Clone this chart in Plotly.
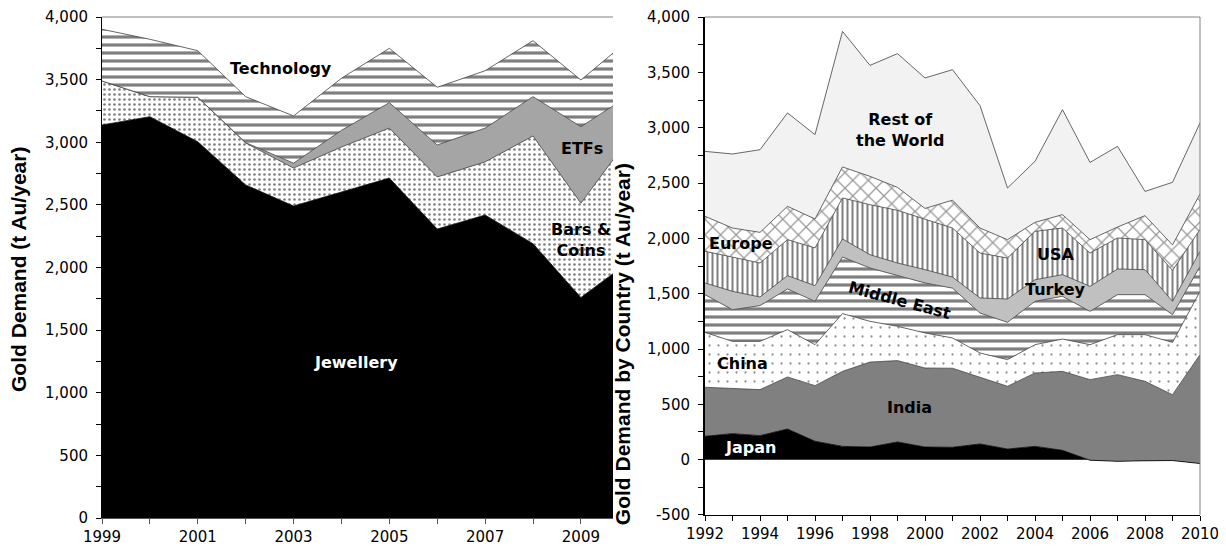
import plotly.graph_objects as go
from plotly.subplots import make_subplots

FONT = "DejaVu Sans, sans-serif"
TITLE_FONT = "Arial, Liberation Sans, sans-serif"
EDGE = "#404040"
OFF = 8  # page body margin offset (px)
W, H = 1226, 551

# ---- left panel: gold demand by use (t Au/year) ----
years_use = list(range(1999, 2011))
jewellery = [3138, 3204, 3004, 2659, 2491, 2603, 2714, 2307, 2419, 2190, 1760, 2045]
bars_coins = [351, 160, 355, 335, 303, 359, 399, 416, 424, 860, 753, 986]
etfs = [0, 0, 0, 3, 39, 133, 203, 255, 270, 314, 611, 341]
technology = [413, 458, 372, 367, 377, 416, 434, 461, 458, 447, 373, 445]

# ---- right panel: gold demand by country (t Au/year) ----
years_cty = list(range(1992, 2011))
japan = [211, 235, 217, 277, 166, 120, 114, 160, 114, 112, 142, 96, 120, 84, -5, -15, -10, -8, -35]
india = [443, 407, 416, 470, 503, 678, 768, 735, 714, 714, 605, 567, 663, 714, 728, 783, 718, 595, 984]
china = [496, 427, 436, 428, 370, 522, 368, 310, 317, 274, 217, 241, 256, 292, 316, 362, 422, 473, 571]
middle_east = [341, 286, 323, 367, 392, 511, 482, 458, 452, 450, 361, 337, 392, 386, 301, 361, 361, 250, 227]
turkey = [106, 166, 78, 121, 141, 163, 120, 114, 120, 100, 136, 211, 195, 196, 226, 232, 226, 121, 136]
usa = [286, 310, 307, 325, 341, 371, 452, 476, 458, 443, 406, 370, 437, 421, 301, 280, 271, 279, 197]
europe = [316, 262, 277, 301, 262, 280, 256, 207, 95, 252, 226, 166, 81, 121, 121, 99, 217, 230, 320]
rest_of_world = [587, 669, 747, 844, 762, 1225, 1003, 1209, 1179, 1179, 1106, 467, 552, 949, 698, 729, 219, 566, 643]

# right y-axis tick labels (plain hyphen for the negative one)
cty_tickvals = [-500, 0, 500, 1000, 1500, 2000, 2500, 3000, 3500, 4000]
cty_ticktext = ["-500", "0", "500", "1,000", "1,500", "2,000", "2,500", "3,000", "3,500", "4,000"]

fig = make_subplots(rows=1, cols=2)


def area(x, y, group, color=None, pattern=None, col=1, line=EDGE):
    kw = dict(x=x, y=y, mode="lines", stackgroup=group, showlegend=False,
              line=dict(color=line, width=0.8), hoverinfo="skip")
    if pattern:
        kw["fillpattern"] = pattern
        kw["fillcolor"] = "white"
    else:
        kw["fillcolor"] = color
    fig.add_trace(go.Scatter(**kw), row=1, col=col)


dots_dense = dict(shape=".", bgcolor="white", fgcolor="black", size=5, solidity=0.22)
hstripes = dict(shape="-", bgcolor="white", fgcolor="black", size=8, solidity=0.4)
dots_sparse = dict(shape=".", bgcolor="white", fgcolor="#222", size=9, solidity=0.05)
vstripes = dict(shape="|", bgcolor="white", fgcolor="black", size=5, solidity=0.4)
brick = dict(shape="x", bgcolor="white", fgcolor="#333", size=11, solidity=0.22)

area(years_use, jewellery, "use", color="black", line="black")
area(years_use, bars_coins, "use", pattern=dots_dense)
area(years_use, etfs, "use", color="#A5A5A5")
area(years_use, technology, "use", pattern=hstripes)

area(years_cty, japan, "cty", color="black", col=2, line="black")
area(years_cty, india, "cty", color="#808080", col=2)
area(years_cty, china, "cty", pattern=dots_sparse, col=2)
area(years_cty, middle_east, "cty", pattern=hstripes, col=2)
area(years_cty, turkey, "cty", color="#C0C0C0", col=2)
area(years_cty, usa, "cty", pattern=vstripes, col=2)
area(years_cty, europe, "cty", pattern=brick, col=2)
area(years_cty, rest_of_world, "cty", color="#F2F2F2", col=2)

tickfont = dict(family=FONT, size=15, color="black")
common = dict(ticks="outside", ticklen=5, showgrid=False, zeroline=False,
              showline=True, tickfont=tickfont, automargin=False)
fig.update_layout(
    width=W, height=H,
    paper_bgcolor="white", plot_bgcolor="white",
    margin=dict(l=0, r=0, t=17 - OFF, b=H - (518 - OFF)),
    font=dict(family=FONT, color="black"),
    xaxis=dict(domain=[(102 - OFF) / W, (613 - OFF) / W], range=[1999, 2009.67],
               tickvals=[1999, 2001, 2003, 2005, 2007, 2009], tickcolor="#555",
               minor=dict(dtick=1, tick0=1999, ticks="outside", ticklen=5, tickcolor="#555"),
               linecolor="#555", **common),
    yaxis=dict(range=[0, 4000], dtick=500, tickformat=",", tickcolor="black",
               minor=dict(dtick=250, ticks="outside", ticklen=5, tickcolor="black"),
               linecolor="black", linewidth=1, ticklabelstandoff=5, **common),
    xaxis2=dict(domain=[(705 - OFF) / W, (1200 - OFF) / W], range=[1992, 2010], dtick=2,
                tickcolor="black",
                minor=dict(dtick=1, ticks="outside", ticklen=5, tickcolor="black"),
                linecolor="black", **common),
    yaxis2=dict(range=[-500, 4000], tickvals=cty_tickvals, ticktext=cty_ticktext,
                domain=[0.006, 1], tickcolor="black",
                minor=dict(dtick=250, tick0=0, ticks="outside", ticklen=5, tickcolor="black"),
                linecolor="black", linewidth=2, ticklabelstandoff=5, **common),
)

# plot frames
fig.add_shape(type="line", xref="x domain", yref="y domain", x0=0, x1=1, y0=1, y1=1,
              line=dict(color="#808080", width=1))
fig.add_shape(type="line", xref="x2 domain", yref="y2 domain", x0=0, x1=1, y0=1, y1=1,
              line=dict(color="#808080", width=1))
fig.add_shape(type="line", xref="x2 domain", yref="y2 domain", x0=1, x1=1, y0=0, y1=1,
              line=dict(color="#808080", width=1))

lbl = dict(family=FONT, size=16, color="black")
lbl_w = dict(family=FONT, size=16, color="white")
notes = [
    ("x", "y", 2002.73, 3585, "<b>Technology</b>", lbl, 0),
    ("x", "y", 2009.02, 2954, "<b>ETFs</b>", lbl, 0),
    ("x", "y", 2009.0, 2220, "<b>Bars &amp;<br>Coins</b>", lbl, 0),
    ("x", "y", 2004.31, 1245, "<b>Jewellery</b>", lbl_w, 0),
    ("x2", "y2", 1999.09, 2982, "<b>Rest of<br>the World</b>", lbl, 0),
    ("x2", "y2", 1993.31, 1956, "<b>Europe</b>", lbl, 0),
    ("x2", "y2", 2004.76, 1852, "<b>USA</b>", lbl, 0),
    ("x2", "y2", 2004.76, 1541, "<b>Turkey</b>", lbl, 0),
    ("x2", "y2", 1999.09, 1437, "<b>Middle East</b>", lbl, 15),
    ("x2", "y2", 1993.35, 867, "<b>China</b>", lbl, 0),
    ("x2", "y2", 1999.45, 470, "<b>India</b>", lbl, 0),
    ("x2", "y2", 1993.67, 108, "<b>Japan</b>", lbl_w, 0),
]
for xr, yr, x, y, text, f, ang in notes:
    fig.add_annotation(xref=xr, yref=yr, x=x, y=y, text=text, showarrow=False,
                       font=f, textangle=ang, align="center")

title_font = dict(family=TITLE_FONT, size=21, color="black")
fig.add_annotation(xref="paper", yref="paper", x=(18 - OFF) / W, y=0.495,
                   xanchor="center", yanchor="middle",
                   text="<b>Gold Demand (t Au/year)</b>", textangle=-90,
                   showarrow=False, font=title_font)
fig.add_annotation(xref="paper", yref="paper", x=(622 - OFF) / W, y=0.347,
                   xanchor="center", yanchor="middle",
                   text="<b>Gold Demand by Country (t Au/year)</b>", textangle=-90,
                   showarrow=False, font=title_font)

fig.write_html("out.html")
